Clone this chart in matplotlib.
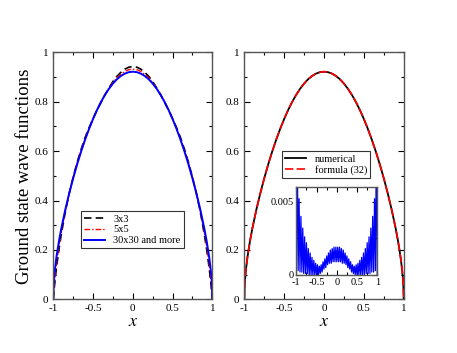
import numpy as np
import matplotlib
matplotlib.use("Agg")
import matplotlib.pyplot as plt
from matplotlib.ticker import MultipleLocator

plt.rcParams['font.family'] = ['Liberation Serif', 'DejaVu Serif']
plt.rcParams['mathtext.fontset'] = 'stix'

# half-grid (x >= 0) values, curves are symmetric in x
x_half = [0.0, 0.05, 0.1, 0.15, 0.2, 0.25, 0.3, 0.35, 0.4, 0.45, 0.5, 0.55, 0.6,
          0.65, 0.7, 0.75, 0.8, 0.85, 0.9, 0.93, 0.96, 0.98, 0.99, 0.995, 1.0]
psi_30 = [0.9217, 0.9198, 0.9140, 0.9044, 0.8910, 0.8737, 0.8526, 0.8277, 0.7991,
          0.7666, 0.7303, 0.6902, 0.6463, 0.5985, 0.5465, 0.4901, 0.4286, 0.3616,
          0.2857, 0.2336, 0.1720, 0.1194, 0.0836, 0.0588, 0.0]
psi_3 = [0.942, 0.940, 0.932, 0.919, 0.903, 0.882, 0.856, 0.828, 0.797, 0.766,
         0.732, 0.695, 0.655, 0.607, 0.555, 0.495, 0.428, 0.352, 0.262, 0.200,
         0.128, 0.070, 0.038, 0.020, 0.0]
psi_5 = [0.932, 0.930, 0.923, 0.911, 0.897, 0.878, 0.855, 0.829, 0.800, 0.767,
         0.731, 0.692, 0.650, 0.603, 0.552, 0.494, 0.430, 0.357, 0.272, 0.215,
         0.145, 0.085, 0.048, 0.025, 0.0]

# inset: |numerical - formula| (zigzag), x from -1 to 0
diff_left = [0.0, 0.0095, 0.0003, 0.0052, 0.0002, 0.0040, 0.0002, 0.0032, 0.0001,
             0.0026, 0.0001, 0.0022, 0.0001, 0.0018, 0.0, 0.0015, 0.0, 0.0012, 0.0,
             0.0010, 0.0, 0.0008, 0.0, 0.0007, 0.0, 0.0006, 0.0001, 0.0007, 0.0002,
             0.0009, 0.0004, 0.0011, 0.0005, 0.0013, 0.0007, 0.0015, 0.0008, 0.0017,
             0.0008, 0.0018, 0.0009, 0.0019, 0.0009, 0.0019, 0.0009]

def mirror(xh, yh):
    xh = np.asarray(xh); yh = np.asarray(yh)
    return np.concatenate([-xh[:0:-1], xh]), np.concatenate([yh[:0:-1], yh])

x, y30 = mirror(x_half, psi_30)
_, y3 = mirror(x_half, psi_3)
_, y5 = mirror(x_half, psi_5)
d = np.asarray(diff_left)
diff_all = np.concatenate([d, d[-2::-1]])
x_diff = np.linspace(-1, 1, len(diff_all))

fig = plt.figure(figsize=(4.57, 3.53), dpi=100)
ax1 = fig.add_axes([0.1166, 0.152, 0.348, 0.6997])
ax2 = fig.add_axes([0.5346, 0.152, 0.3488, 0.6997])
axin = fig.add_axes([0.6484, 0.221, 0.1772, 0.2493])

spine_col = '#555555'
def style(ax, fs=8):
    ax.tick_params(which='both', direction='in', top=True, right=True,
                   labelsize=fs, colors='black', width=0.8)
    ax.tick_params(which='major', length=4.5)
    ax.tick_params(which='minor', length=2.5)
    for s in ax.spines.values():
        s.set_color(spine_col)
        s.set_linewidth(1.0)

for ax in (ax1, ax2):
    ax.set_xlim(-1, 1)
    ax.set_ylim(0, 1)
    ax.xaxis.set_major_locator(MultipleLocator(0.5))
    ax.xaxis.set_minor_locator(MultipleLocator(0.25))
    ax.yaxis.set_major_locator(MultipleLocator(0.2))
    ax.yaxis.set_minor_locator(MultipleLocator(0.1))
    ax.set_xticks([-1, -0.5, 0, 0.5, 1])
    ax.set_xticklabels(['-1', '-0.5', '0', '0.5', '1'])
    ax.set_yticks([0, 0.2, 0.4, 0.6, 0.8, 1])
    ax.set_yticklabels(['0', '0.2', '0.4', '0.6', '0.8', '1'])
    style(ax)
    ax.set_xlabel('$x$', fontsize=13, labelpad=0)

ax1.plot(x, y3, color='black', lw=1.2, dashes=(4.5, 2.5), label='3x3')
ax1.plot(x, y5, color='red', lw=1.0, dashes=(4, 1.5, 1, 1.5), label='5x5')
ax1.plot(x, y30, color='blue', lw=1.4, label='30x30 and more')
ax1.set_ylabel('Ground state wave functions', fontsize=13.5, labelpad=1)
leg1 = ax1.legend(loc='upper left', bbox_to_anchor=(0.175, 0.357), fontsize=7.5,
                  frameon=True, fancybox=False, edgecolor='black', handlelength=2.0,
                  borderpad=0.3, labelspacing=0.15, handletextpad=0.8, borderaxespad=0)
leg1.get_frame().set_linewidth(0.8)

ax2.plot(x, y30, color='black', lw=1.3, label='numerical')
ax2.plot(x, y30, color='red', lw=1.2, dashes=(5, 2), label='formula (32)')
leg2 = ax2.legend(loc='upper left', bbox_to_anchor=(0.238, 0.6), fontsize=7.5,
                  frameon=True, fancybox=False, edgecolor='black', handlelength=2.0,
                  borderpad=0.3, labelspacing=0.15, handletextpad=0.8, borderaxespad=0)
leg2.get_frame().set_linewidth(0.8)

axin.plot(x_diff, diff_all, color='blue', lw=0.9)
axin.set_xlim(-1, 1)
axin.set_ylim(0, 0.006)
axin.set_xticks([-1, -0.5, 0, 0.5, 1])
axin.set_xticklabels(['-1', '-0.5', '0', '0.5', '1'])
axin.xaxis.set_minor_locator(MultipleLocator(0.25))
axin.set_yticks([0, 0.005])
axin.set_yticklabels(['0', '0.005'])
axin.yaxis.set_minor_locator(MultipleLocator(0.0025))
style(axin, fs=7.5)
axin.tick_params(which='major', length=3.5)
axin.tick_params(which='minor', length=2)
axin.tick_params(axis='x', pad=2)
axin.tick_params(axis='y', pad=2)

fig.savefig('out.png', dpi=100)
